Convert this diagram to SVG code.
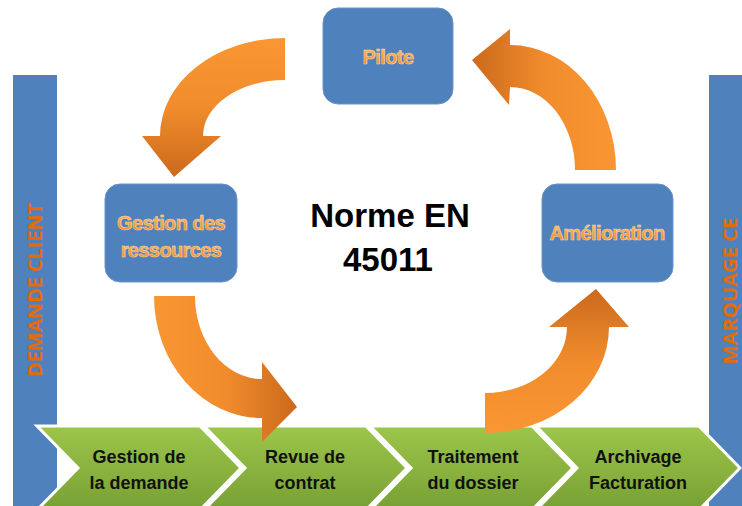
<svg xmlns="http://www.w3.org/2000/svg" width="742" height="506" viewBox="0 0 742 506">
<defs>
<linearGradient id="gDown" x1="0" y1="0" x2="0" y2="1"><stop offset="0" stop-color="#FA9632"/><stop offset="0.5" stop-color="#F08C2C"/><stop offset="1" stop-color="#CC691C"/></linearGradient>
<linearGradient id="gUp" x1="0" y1="1" x2="0" y2="0"><stop offset="0" stop-color="#FA9632"/><stop offset="0.5" stop-color="#F08C2C"/><stop offset="1" stop-color="#CC691C"/></linearGradient>
<linearGradient id="gLeft" x1="1" y1="0" x2="0" y2="0"><stop offset="0" stop-color="#FA9632"/><stop offset="0.5" stop-color="#F08C2C"/><stop offset="1" stop-color="#CC691C"/></linearGradient>
<linearGradient id="gRight" x1="0" y1="0" x2="1" y2="0"><stop offset="0" stop-color="#FA9632"/><stop offset="0.5" stop-color="#F08C2C"/><stop offset="1" stop-color="#CC691C"/></linearGradient>
<linearGradient id="gGreen" x1="0" y1="0" x2="0" y2="1"><stop offset="0" stop-color="#9DC64B"/><stop offset="1" stop-color="#77A034"/></linearGradient>
<linearGradient id="gTxt" x1="0" y1="0" x2="0" y2="1"><stop offset="0" stop-color="#FFC066"/><stop offset="1" stop-color="#F08020"/></linearGradient>
</defs>
<style>
.box{fill:#4F81BD;stroke:#6A93C6;stroke-width:1}
.bar{fill:#4F81BD}
.btxt{font-family:"Liberation Sans",Arial,sans-serif;font-weight:bold;font-size:20px;letter-spacing:-0.6px;fill:url(#gTxt);stroke:#FFD49A;stroke-width:0.6;text-anchor:middle}
.vtxt{font-family:"Open Sans","Liberation Sans",sans-serif;font-weight:bold;font-size:20px;fill:#E36C0A;text-anchor:middle}
.chev{fill:url(#gGreen);stroke:#FFFFFF;stroke-width:3;stroke-linejoin:miter}
.ctxt{font-family:"Liberation Sans",Arial,sans-serif;font-weight:bold;font-size:18px;fill:#111111;text-anchor:middle}
.mtxt{font-family:"Liberation Sans",Arial,sans-serif;font-weight:bold;font-size:33px;fill:#000000;text-anchor:middle}
</style>
<g id="bar-left">
<rect class="bar" x="13" y="75" width="44" height="431"/>
<text class="vtxt" transform="translate(42,290) rotate(-90)" textLength="174" lengthAdjust="spacingAndGlyphs">DEMANDE CLIENT</text>
</g>
<g id="bar-right">
<rect class="bar" x="709" y="75" width="33" height="431"/>
<text class="vtxt" transform="translate(737,291) rotate(-90)" textLength="147" lengthAdjust="spacingAndGlyphs">MARQUAGE CE</text>
</g>
<g id="step1">
<path class="chev" d="M37,426 L200,426 L241,468 L200,510 L37,510 L78,468 Z"/>
<text class="ctxt" x="139" y="463">Gestion de</text>
<text class="ctxt" x="139" y="489">la demande</text>
</g>
<g id="step2">
<path class="chev" d="M204,426 L366,426 L407,468 L366,510 L204,510 L245,468 Z"/>
<text class="ctxt" x="305" y="463">Revue de</text>
<text class="ctxt" x="305" y="489">contrat</text>
</g>
<g id="step3">
<path class="chev" d="M370,426 L532,426 L573,468 L532,510 L370,510 L411,468 Z"/>
<text class="ctxt" x="473" y="463">Traitement</text>
<text class="ctxt" x="473" y="489">du dossier</text>
</g>
<g id="step4">
<path class="chev" d="M536,426 L699,426 L740,468 L699,510 L536,510 L577,468 Z"/>
<text class="ctxt" x="638" y="463">Archivage</text>
<text class="ctxt" x="638" y="489">Facturation</text>
</g>
<g id="pilote">
<rect class="box" x="323" y="8" width="130" height="96" rx="15"/>
<text class="btxt" x="388" y="64">Pilote</text>
</g>
<g id="gestion-ressources">
<rect class="box" x="105" y="184" width="132" height="98" rx="15"/>
<text class="btxt" x="171" y="230">Gestion des</text>
<text class="btxt" x="171" y="257">ressources</text>
</g>
<g id="amelioration">
<rect class="box" x="542" y="184" width="131" height="98" rx="15"/>
<text class="btxt" x="607" y="240">Amélioration</text>
</g>
<g id="center">
<text class="mtxt" x="390" y="227">Norme EN</text>
<text class="mtxt" x="388" y="271">45011</text>
</g>
<g id="connectors">
<path fill="url(#gDown)" d="M285,38 A125,98 0 0 0 160,136 L142,136 L174,177 L221,136 L203,136 A82,56 0 0 1 285,80 Z"/>
<path fill="url(#gLeft)" d="M616,170 A106,125 0 0 0 510,45 L510,29 L472,60 L509,105 L510,87 A65,83 0 0 1 575,170 Z"/>
<path fill="url(#gRight)" d="M154,296 A108,122 0 0 0 262,418 L262,442 L297,407 L262,362 L262,379 A67,83 0 0 1 195,296 Z"/>
<path fill="url(#gUp)" d="M485,433 A124,106 0 0 0 609,327 L629,327 L596,289 L549,327 L567,327 A82,66 0 0 1 485,393 Z"/>
</g>
</svg>
